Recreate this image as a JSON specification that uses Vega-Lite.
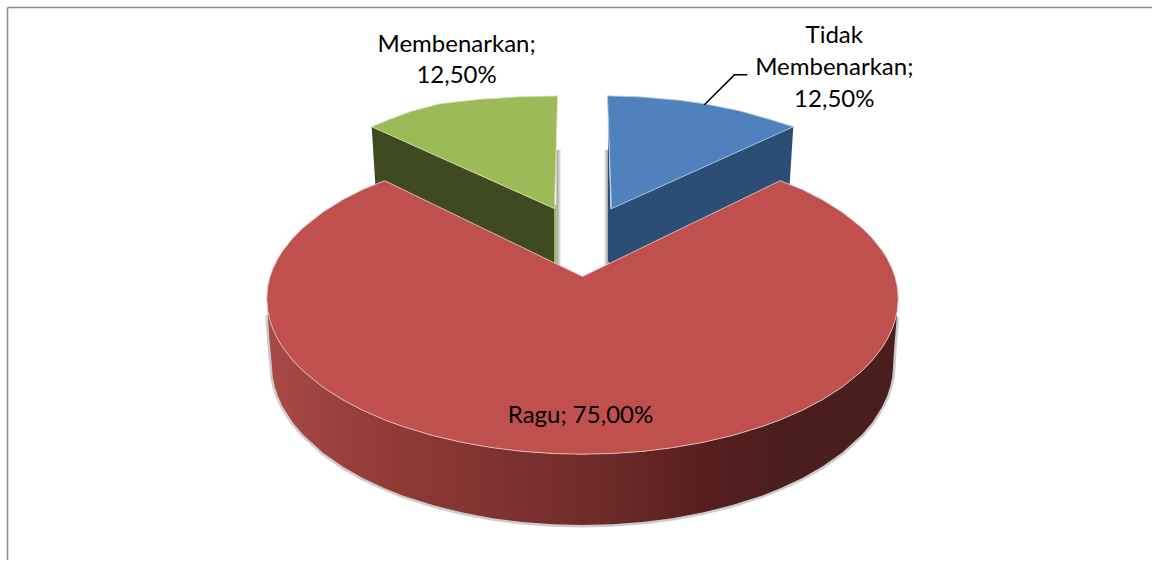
{
"$schema":"https://vega.github.io/schema/vega-lite/v6.json",
"autosize":{"type":"fit","contains":"padding"},
"width":1153,"height":561,"padding":0,
"background":"#ffffff",
"view":{"stroke":null},
"config":{"style":{"cell":{"stroke":null}}},
"datasets":{
"redSide":[
{"x":268,"top":311.4,"bottom":316},{"x":270,"top":320.5,"bottom":345},{"x":272,"top":326.5,"bottom":365},{"x":273,"top":329.3,"bottom":377.9},{"x":275,"top":333.9,"bottom":387.3},{"x":278,"top":339.8,"bottom":396.5},{"x":283,"top":348,"bottom":407.4},{"x":293,"top":361,"bottom":423.2},{"x":303,"top":371.3,"bottom":435.1},{"x":323,"top":387.7,"bottom":453.3},{"x":343,"top":400.5,"bottom":467.4},{"x":363,"top":411,"bottom":478.8},{"x":385,"top":420.6,"bottom":489.2},{"x":403,"top":427.2,"bottom":496.3},{"x":433,"top":436.3,"bottom":506},{"x":463,"top":443.3,"bottom":513.5},{"x":493,"top":448.5,"bottom":519.1},{"x":523,"top":452.2,"bottom":523},{"x":553,"top":454.3,"bottom":525.2},{"x":583,"top":455,"bottom":526},{"x":613,"top":454.3,"bottom":525.2},{"x":643,"top":452.2,"bottom":523},{"x":673,"top":448.5,"bottom":519.1},{"x":703,"top":443.3,"bottom":513.5},{"x":733,"top":436.3,"bottom":506},{"x":763,"top":427.2,"bottom":496.3},{"x":781,"top":420.6,"bottom":489.2},{"x":803,"top":411,"bottom":478.8},{"x":823,"top":400.5,"bottom":467.4},{"x":843,"top":387.7,"bottom":453.3},{"x":863,"top":371.3,"bottom":435.1},{"x":873,"top":361,"bottom":423.2},{"x":883,"top":348,"bottom":407.4},{"x":888,"top":339.8,"bottom":396.5},{"x":891,"top":333.9,"bottom":387.3},{"x":893,"top":329.3,"bottom":377.9},{"x":894,"top":326.5,"bottom":365},{"x":895,"top":323,"bottom":348},{"x":897.5,"top":314,"bottom":318}
],
"redTop":[
{"x":267,"top":299,"bottom":299},{"x":268,"top":286.9,"bottom":311.4},{"x":270,"top":278.1,"bottom":320.5},{"x":273,"top":269.5,"bottom":329.3},{"x":278,"top":259.2,"bottom":339.8},{"x":283,"top":251.2,"bottom":348},{"x":293,"top":238.6,"bottom":361},{"x":303,"top":228.5,"bottom":371.3},{"x":323,"top":212.6,"bottom":387.7},{"x":343,"top":200.1,"bottom":400.5},{"x":363,"top":189.9,"bottom":411},{"x":385,"top":181,"bottom":420.6},{"x":403,"top":189.7,"bottom":427.2},{"x":433,"top":204.3,"bottom":436.3},{"x":463,"top":218.8,"bottom":443.3},{"x":493,"top":233.4,"bottom":448.5},{"x":523,"top":247.9,"bottom":452.2},{"x":553,"top":262.5,"bottom":454.3},{"x":583,"top":277,"bottom":455},{"x":613,"top":262.5,"bottom":454.3},{"x":643,"top":247.9,"bottom":452.2},{"x":673,"top":233.4,"bottom":448.5},{"x":703,"top":218.8,"bottom":443.3},{"x":733,"top":204.3,"bottom":436.3},{"x":763,"top":189.7,"bottom":427.2},{"x":781,"top":181,"bottom":420.6},{"x":803,"top":189.9,"bottom":411},{"x":823,"top":200.1,"bottom":400.5},{"x":843,"top":212.6,"bottom":387.7},{"x":863,"top":228.5,"bottom":371.3},{"x":873,"top":238.6,"bottom":361},{"x":883,"top":251.2,"bottom":348},{"x":888,"top":259.2,"bottom":339.8},{"x":893,"top":269.5,"bottom":329.3},{"x":896,"top":278.1,"bottom":320.5},{"x":898,"top":286.9,"bottom":311.4},{"x":899,"top":299,"bottom":299}
],
"greenTop":[
{"x":372,"top":127,"bottom":127},{"x":390,"top":119.5,"bottom":135},{"x":410,"top":112,"bottom":144},{"x":440,"top":104,"bottom":157.5},{"x":480,"top":99.5,"bottom":175.4},{"x":520,"top":97,"bottom":193.3},{"x":555,"top":96.2,"bottom":209},{"x":558,"top":96,"bottom":96}
],
"greenSide":[
{"x":372,"top":127,"bottom":127},{"x":376,"top":128.8,"bottom":190},{"x":555,"top":209,"bottom":300}
],
"greenStrip":[
{"x":555,"top":205,"bottom":265},{"x":557,"top":205,"bottom":265}
],
"greenShadow":[
{"x":557,"top":150,"bottom":268},{"x":562,"top":150,"bottom":270}
],
"blueShadow":[
{"x":604,"top":150,"bottom":270},{"x":609,"top":150,"bottom":268}
],
"blueTop":[
{"x":608,"top":96,"bottom":96},{"x":612,"top":96.2,"bottom":209},{"x":640,"top":97,"bottom":196.4},{"x":680,"top":100.5,"bottom":178.4},{"x":705,"top":104,"bottom":167.1},{"x":740,"top":111,"bottom":151.3},{"x":770,"top":119.5,"bottom":137.8},{"x":794,"top":127,"bottom":127}
],
"blueSide":[
{"x":608.5,"top":120,"bottom":262},{"x":611,"top":209,"bottom":265},{"x":612,"top":209,"bottom":300},{"x":790,"top":128.8,"bottom":190},{"x":794,"top":127,"bottom":127}
],
"leader":[
{"x":705,"y":105},{"x":735,"y":75},{"x":748,"y":75}
],
"frame":[
{"x":7.5,"x2":1153,"y":7.5,"y2":7.5},{"x":7.5,"x2":7.5,"y":7.5,"y2":561}
],
"labels":[
{"label":"Membenarkan;","x":457,"y":52},{"label":"12,50%","x":457,"y":83},
{"label":"Tidak","x":835,"y":43},{"label":"Membenarkan;","x":835,"y":75},{"label":"12,50%","x":835,"y":107},
{"label":"Ragu; 75,00%","x":581,"y":424}
]
},
"encoding":{
"x":{"field":"x","type":"quantitative","scale":{"domain":[0,1153],"nice":false,"zero":false},"axis":null},
"y":{"field":"top","type":"quantitative","scale":{"domain":[561,0],"nice":false,"zero":false},"axis":null}
},
"layer":[
{"data":{"name":"frame"},"mark":{"type":"rule","color":"#8f8f8f","strokeWidth":1.6},
 "encoding":{"x":{"field":"x","type":"quantitative"},"x2":{"field":"x2"},"y":{"field":"y","type":"quantitative"},"y2":{"field":"y2"}}},
{"data":{"name":"greenShadow"},"mark":{"type":"area","color":{"gradient":"linear","x1":0,"x2":1,"y1":0,"y2":0,"stops":[{"offset":0,"color":"#9a9a9a"},{"offset":1,"color":"#ffffff"}]}},"encoding":{"y2":{"field":"bottom"}}},
{"data":{"name":"blueShadow"},"mark":{"type":"area","color":{"gradient":"linear","x1":0,"x2":1,"y1":0,"y2":0,"stops":[{"offset":0,"color":"#ffffff"},{"offset":1,"color":"#9a9a9a"}]}},"encoding":{"y2":{"field":"bottom"}}},
{"data":{"name":"greenSide"},"mark":{"type":"area","color":"#3f4a20"},"encoding":{"y2":{"field":"bottom"}}},
{"data":{"name":"greenStrip"},"mark":{"type":"area","color":"#9bbb59"},"encoding":{"y2":{"field":"bottom"}}},
{"data":{"name":"greenTop"},"mark":{"type":"area","color":"#9bbb59","stroke":"#d5e2b5","strokeWidth":0.8},"encoding":{"y2":{"field":"bottom"}}},
{"data":{"name":"blueSide"},"mark":{"type":"area","color":"#2c4d75"},"encoding":{"y2":{"field":"bottom"}}},
{"data":{"name":"blueTop"},"mark":{"type":"area","color":"#4f81bd","stroke":"#b4cae3","strokeWidth":0.8},"encoding":{"y2":{"field":"bottom"}}},
{"data":{"name":"leader"},"mark":{"type":"line","color":"#000000","strokeWidth":1.5},
 "encoding":{"y":{"field":"y","type":"quantitative"}}},
{"data":{"name":"redSide"},"mark":{"type":"line","color":"#808080","strokeWidth":5,"opacity":0.4},
 "encoding":{"y":{"field":"bottom","type":"quantitative"}}},
{"data":{"name":"redSide"},"mark":{"type":"area","color":{"gradient":"linear","x1":0,"x2":1,"y1":0,"y2":0,"stops":[{"offset":0,"color":"#a84a47"},{"offset":0.21,"color":"#8f3935"},{"offset":0.37,"color":"#7f3230"},{"offset":0.53,"color":"#6d2b29"},{"offset":0.69,"color":"#581f1e"},{"offset":0.81,"color":"#4a1e1d"},{"offset":1,"color":"#4a1e1d"}]}},"encoding":{"y2":{"field":"bottom"}}},
{"data":{"name":"redTop"},"mark":{"type":"area","color":"#c0504d","stroke":"#e3c4c3","strokeWidth":0.9},"encoding":{"y2":{"field":"bottom"}}},
{"data":{"name":"labels"},"mark":{"type":"text","font":"Lato","fontSize":24,"color":"#000000","align":"center","baseline":"alphabetic"},
 "encoding":{"y":{"field":"y","type":"quantitative"},"text":{"field":"label","type":"nominal"}}}
]
}
